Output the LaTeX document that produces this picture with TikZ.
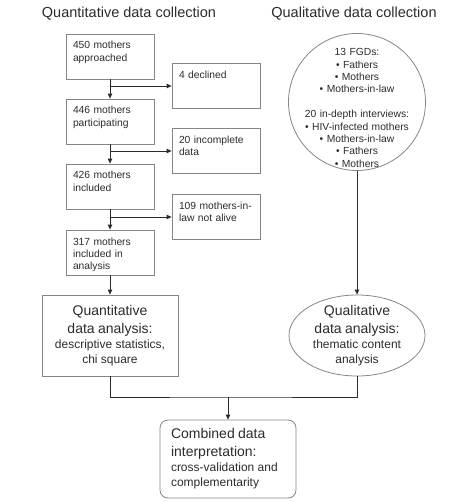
\documentclass[tikz,border=0pt]{standalone}
\usepackage{fontspec}
\setmainfont{Liberation Sans}
\usepackage{tikz}
\usetikzlibrary{
  arrows.meta,
  positioning,
  shapes.geometric,
}
\definecolor{flowgray}{HTML}{858585}
\definecolor{flowink}{HTML}{2b2b2b}
\newcommand{\smallfont}{\fontsize{10.3}{12.4}\selectfont}
\newcommand{\headfont}{\fontsize{14}{18}\selectfont}
\newcommand{\subfont}{\fontsize{12}{15}\selectfont}
\newcommand{\titlefont}{\fontsize{14.5}{17}\selectfont}

\begin{document}
\begin{tikzpicture}[
  x=1pt, y=-1pt,
  box/.style={
    draw=flowgray, line width=0.8pt, text=flowink, font=\smallfont,
    text width=74pt, align=left, inner xsep=7pt, inner ysep=6.25pt,
    text height=8.75pt, text depth=23.75pt,
  },
  anabox/.style={
    draw=flowgray, line width=0.8pt, text=flowink,
    minimum width=136pt, minimum height=81pt, text width=130pt,
    inner sep=3pt, align=center,
  },
  title/.style={
    font=\titlefont, text=flowink, anchor=base,
  },
  arrow/.style={
    -{Triangle[length=5pt, width=4.5pt]}, line width=0.9pt, color=flowink,
  },
  line/.style={
    line width=0.9pt, color=flowink,
  },
]
  \useasboundingbox (0,0) rectangle (474,502);

  % Titles
  \node[title] (quanttitle) at (129,18) {Quantitative data collection};
  \node[title] (qualtitle) at (354,18) {Qualitative data collection};

  % Quantitative data collection
  \node[box] (appr) at (110,56.5) {450 mothers\\approached};
  \node[box] (decl) at (216,86) {4 declined};
  \node[box] (part) at (110,121.5) {446 mothers\\participating};
  \node[box] (incomp) at (216,151) {20 incomplete\\data};
  \node[box] (incl) at (110,186.5) {426 mothers\\included};
  \node[box] (dead) at (216,217) {109 mothers-in-\\law not alive};
  \node[box] (anal) at (110,252.5) {317 mothers\\included in\\analysis};

  % Qualitative data collection
  \node[circle, draw=flowgray, line width=0.8pt, minimum size=137pt,
    inner sep=0pt] (qualcoll) at (357,102) {};
  \node[font=\smallfont, text=flowink, text width=130pt, align=center]
    (qualcolltext) at (357,108) {13 FGDs:\\• Fathers\\• Mothers\\
    • Mothers-in-law\\[12.4pt]20 in-depth interviews:\\
    • HIV-infected mothers\\• Mothers-in-law\\• Fathers\\• Mothers};

  % Analysis
  \node[anabox] (quantana) at (110,335.5)
    {{\headfont Quantitative\\data analysis:\par}%
     {\subfont descriptive statistics,\\chi square\par}};
  \node[ellipse, draw=flowgray, line width=0.8pt, minimum width=136pt,
    minimum height=81pt, inner sep=0pt] (qualana) at (357,335.5) {};
  \node[text=flowink, text width=130pt, align=center] (qualanatext)
    at (qualana.center)
    {{\headfont Qualitative\\data analysis:\par}%
     {\subfont thematic content\\analysis\par}};

  % Interpretation
  \node[draw=flowgray, line width=0.8pt, rounded corners=8pt, text=flowink,
    minimum width=136pt, minimum height=78pt, text width=114pt,
    inner xsep=11pt, align=left] (comb) at (228,459)
    {{\headfont Combined data\\interpretation:\par}%
     {\subfont cross-validation and\\complementarity\par}};

  % Connections
  \draw[arrow] (appr) -- (part);
  \draw[arrow] (part) -- (incl);
  \draw[arrow] (incl) -- (anal);
  \draw[arrow] (appr.south |- decl.west) -- (decl.west);
  \draw[arrow] (part.south |- incomp.west) -- (incomp.west);
  \draw[arrow] (incl.south |- dead.west) -- (dead.west);
  \draw[arrow] (anal) -- (quantana);
  \draw[arrow] (qualcoll) -- (qualana);

  \coordinate (merge) at (228,397);
  \draw[line] (quantana.south) |- (merge) -| (qualana.south);
  \draw[arrow] (merge) -- (comb);
\end{tikzpicture}
\end{document}
